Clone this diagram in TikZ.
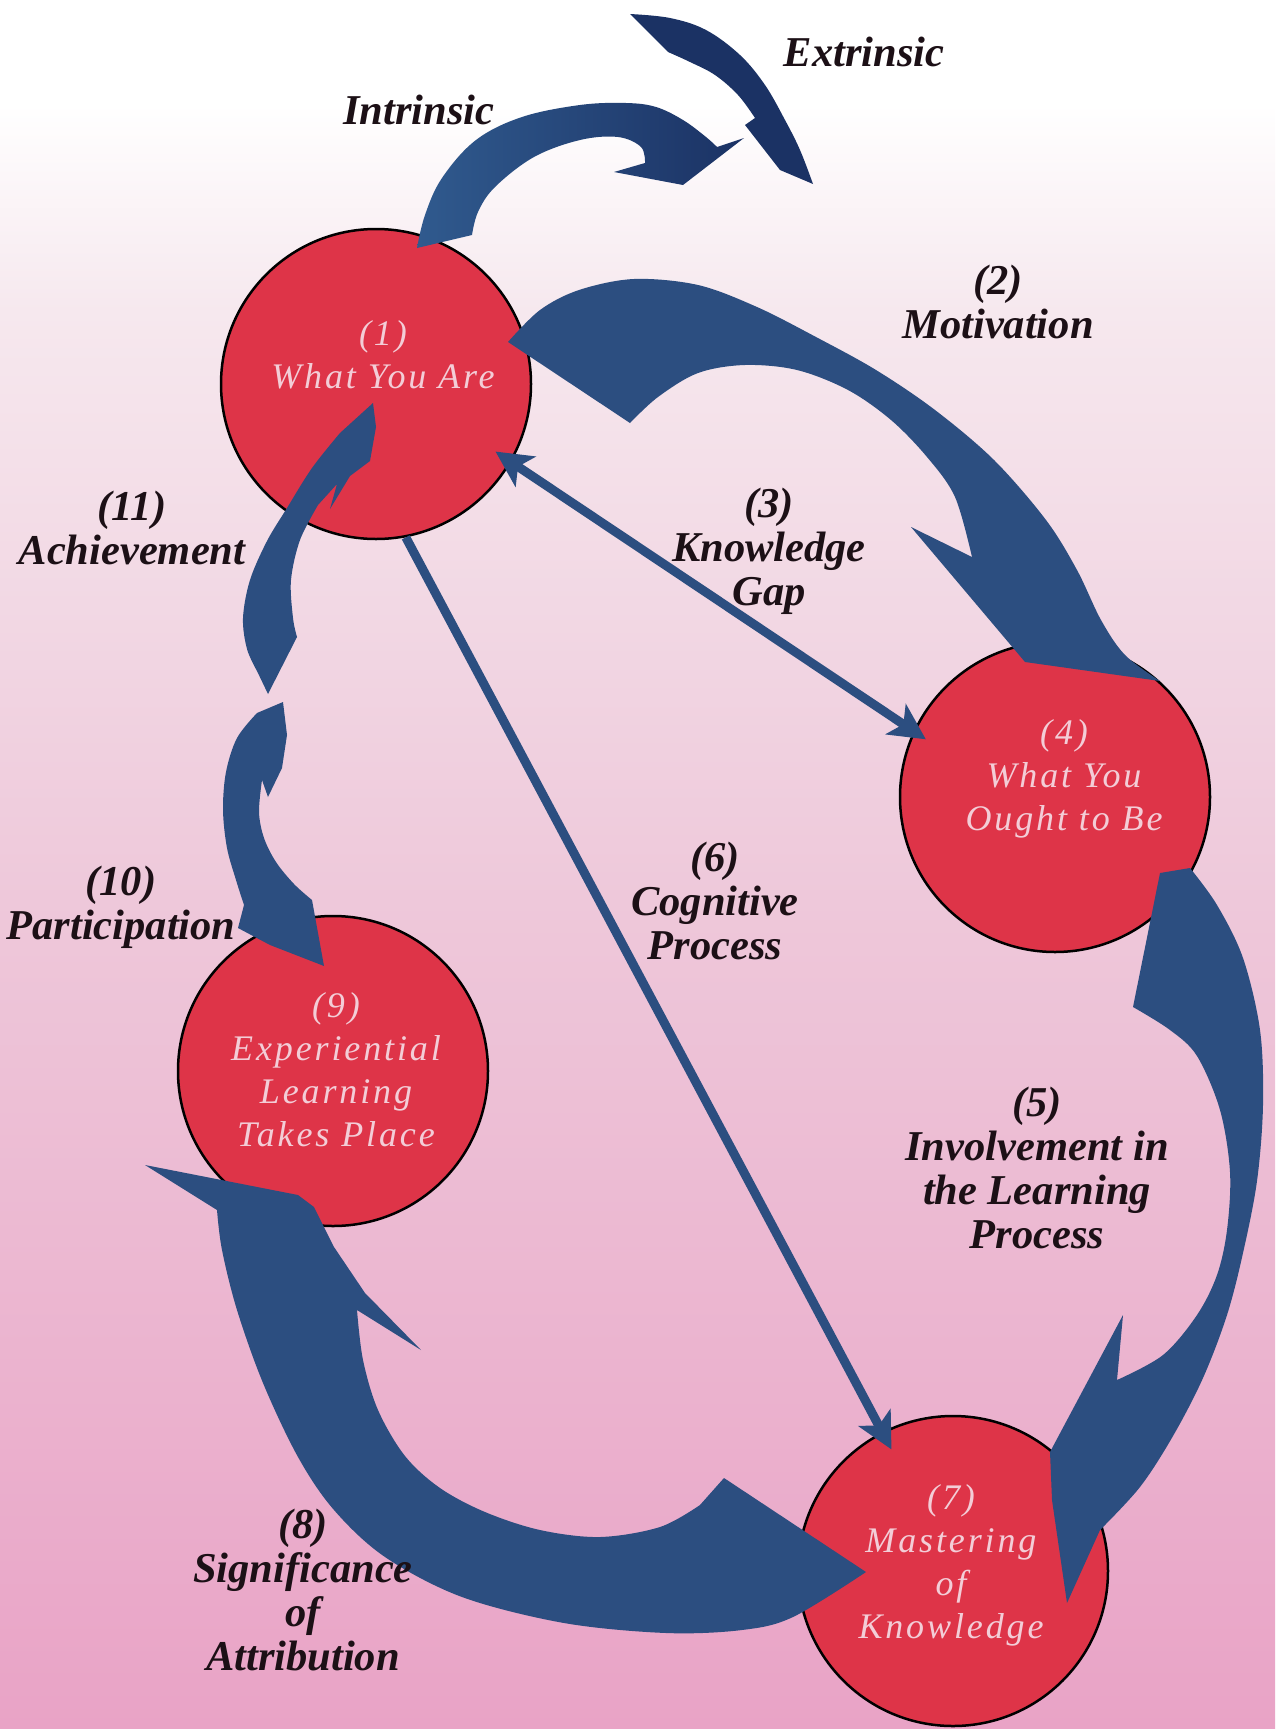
\documentclass[tikz,border=0pt]{standalone}
\usepackage{fontspec}
\setmainfont{Liberation Serif}
\newfontfamily\discfont{Liberation Serif}[LetterSpace=8]
\usetikzlibrary{arrows.meta}

\definecolor{bgpink}{RGB}{233,163,198}
\definecolor{bgmid}{RGB}{238,200,218}
\definecolor{bglight}{RGB}{246,232,238}
\definecolor{discred}{RGB}{222,52,72}
\definecolor{disctext}{RGB}{243,205,215}
\definecolor{flowblue}{RGB}{44,78,128}
\definecolor{introblue}{RGB}{48,90,142}
\definecolor{navy}{RGB}{27,50,100}
\definecolor{inkdark}{RGB}{28,16,22}

% background: white at the top fading to pink at the bottom
\pgfdeclareverticalshading{bgshade}{100bp}{color(0bp)=(bgpink); color(25bp)=(bgpink);
  color(49bp)=(bgmid); color(66bp)=(bglight); color(72bp)=(white); color(100bp)=(white)}

\tikzset{
  disc/.style={circle, draw=black, line width=2.5pt, fill=discred,
    minimum size=310pt, inner sep=0pt},
  disctxt/.style={font=\discfont\itshape\fontsize{36pt}{43pt}\selectfont,
    text=disctext, align=center, inner sep=0pt},
  lbl/.style={font=\bfseries\itshape\fontsize{42.5pt}{44pt}\selectfont,
    text=inkdark, align=center, inner sep=0pt},
  thinflow/.style={draw=flowblue, line width=9pt},
  tipA/.tip={Stealth[length=36pt,width=36pt,inset=9pt]},
  band/.style={fill=flowblue},
}

\begin{document}
\begin{tikzpicture}[x=1pt,y=-1pt]
\useasboundingbox (0,0) rectangle (1275,1729);
\shade[shading=bgshade] (0,0) rectangle (1275,1729);

% the four stages
\node[disc] (c1) at (376,384) {};
\node[disc] (c4) at (1055,797) {};
\node[disc] (c9) at (333,1071) {};
\node[disc] (c7) at (953,1571) {};

\node[disctxt] (t1) at (383,355) {(1)\\What You Are};
\node[disctxt] (t4) at (1064,779) {(4)\\What You\\Ought to Be};
\node[disctxt] (t9) at (336,1070) {(9)\\Experiential\\Learning\\Takes Place};
\node[disctxt] (t7) at (951,1565) {(7)\\Mastering\\of\\Knowledge};

% straight links
\draw[thinflow, tipA-tipA, shorten <=-19pt, shorten >=-15pt] (c1.-30.5) -- (c4.155);
\draw[thinflow, -tipA, shorten >=-20pt] (c1.-79) -- (c7.117.5);

% extrinsic
\fill[navy] plot[smooth, tension=0.6] coordinates {(630,14) (670,18) (706,30) (740,55) (765,85) (785,120) (800,150) (813,184)}
  -- (780,170) -- (745,125) --
  plot[smooth, tension=0.6] coordinates {(755,118) (738,95) (715,75) (690,62) (668,52)} -- cycle;

% intrinsic
\shade[left color=introblue, right color=navy]
  plot[smooth, tension=0.6] coordinates {(417,248) (425,215) (442,178) (476,140) (522,117) (580,105) (626,103) (656,107) (683,120) (706,137) (717,147)}
  -- (744,138) -- (683,185) -- (614,172) --
  plot[smooth, tension=0.6] coordinates {(645,163) (641,147) (618,137) (580,140) (534,157) (495,187) (478,212) (472,235)} -- cycle;

% (2) motivation
\fill[band] plot[smooth, tension=0.55] coordinates {(508,342) (540,310) (579,290) (634,279) (698,285) (757,307) (816,337) (876,370) (935,410) (994,460) (1046,520) (1077,570) (1101,620) (1125,655) (1160,681)}
  -- (1025,662) -- (911,527) --
  plot[smooth, tension=0.55] coordinates {(972,557) (955,497) (927,457) (891,420) (848,390) (797,370) (745,365) (698,373) (658,397) (630,423)} -- cycle;

% (5) involvement
\fill[band] (1160,873) --
  plot[smooth, tension=0.55] coordinates {(1190,868) (1217,905) (1243,958) (1260,1030) (1263,1105) (1257,1181) (1243,1253) (1227,1315) (1203,1378) (1173,1436) (1140,1487) (1100,1530)}
  -- (1067,1603) -- (1052,1500) -- (1050,1452) -- (1123,1315) --
  plot[smooth, tension=0.55] coordinates {(1117,1380) (1163,1355) (1197,1315) (1217,1275) (1227,1230) (1230,1172) (1220,1110) (1197,1056) (1170,1030) (1133,1007)} -- cycle;

% (8) significance of attribution
\fill[band] (724,1478) --
  plot[smooth, tension=0.55] coordinates {(866,1572) (793,1617) (742,1630) (666,1633) (564,1623) (462,1597) (385,1557) (334,1510) (298,1457) (263,1383) (237,1310) (222,1250) (217,1210)}
  -- (145,1165) -- (298,1195) -- (314,1207) -- (334,1247) -- (365,1293) -- (421,1350) --
  plot[smooth, tension=0.55] coordinates {(357,1310) (363,1360) (378,1410) (405,1456) (440,1488) (485,1512) (540,1530) (600,1537) (660,1527) (700,1505)} -- cycle;

% (11) achievement
\fill[band] (373,403) -- (376,427) -- (370,461) -- (350,476) -- (330,509) -- (337,484) --
  plot[smooth, tension=0.55] coordinates {(318,505) (300,540) (291,580) (293,618) (297,637)}
  -- (268,694) --
  plot[smooth, tension=0.55] coordinates {(257,671) (247,649) (243,618) (250,580) (267,541) (287,508) (312,468) (340,433)} -- cycle;

% (10) participation
\fill[band] (283,702) -- (287,735) -- (282,768) -- (268,797) --
  plot[smooth, tension=0.55] coordinates {(262,780) (259,812) (264,838) (276,862) (294,884) (312,900)}
  -- (324,966) -- (270,945) -- (238,928) --
  plot[smooth, tension=0.55] coordinates {(244,905) (236,880) (227,848) (223,810) (226,772) (237,738) (257,713)} -- cycle;

% labels
\node[lbl] (lext) at (864,52) {Extrinsic};
\node[lbl] (lint) at (419,110) {Intrinsic};
\node[lbl] (l2) at (998,302) {(2)\\Motivation};
\node[lbl] (l3) at (769,551) {(3)\\Knowledge\\Gap};
\node[lbl] (l11) at (132,528) {(11)\\Achievement};
\node[lbl] (l6) at (715,901) {(6)\\Cognitive\\Process};
\node[lbl] (l10) at (121,907) {(10)\\Participation};
\node[lbl] (l5) at (1037,1168) {(5)\\Involvement in\\the Learning\\Process};
\node[lbl] (l8) at (303,1590) {(8)\\Significance\\of\\Attribution};
\end{tikzpicture}
\end{document}
